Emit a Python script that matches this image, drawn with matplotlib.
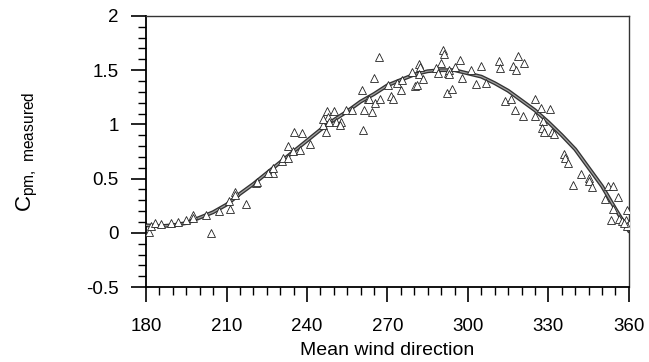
import numpy as np
import matplotlib
matplotlib.use('Agg')
import matplotlib.pyplot as plt
from matplotlib.ticker import MultipleLocator

plt.rcParams['font.family'] = ['Liberation Sans', 'DejaVu Sans']
plt.rcParams['mathtext.fontset'] = 'custom'
plt.rcParams['mathtext.rm'] = 'Liberation Sans'

# measured points (wind direction in degrees, Cpm)
wind_dir = [181, 182, 183.4, 185.6, 189.3, 191.8, 195, 197.4, 197.4, 202.4,
            204.2, 207.3, 211, 211.4, 213.3, 213, 217.3, 221, 227.2, 221.3,
            225.6, 227.4, 230.6, 231.1, 233, 233, 234.9, 237.4, 241.1, 235.3,
            238.2, 246.1, 247.1, 247.3, 247.9, 246.1, 250, 248.3, 250.9, 252.8,
            252.3, 254.5, 256.7, 261.3, 261, 260.4, 262.9, 267, 265.1, 263,
            265.4, 267.2, 270.3, 271.2, 272.2, 264.4, 273.4, 290.8, 291, 289.9,
            281.9, 282.1, 279, 281.9, 283.2, 275.4, 275, 280.3, 281.1, 288.1,
            289, 292.1, 292.4, 293.1, 295.2, 297.1, 293.1, 301.1, 304.8, 297.9,
            303, 306.9, 311.6, 311.9, 316.8, 318.7, 320.8, 317.9, 294, 313.9,
            315.9, 325, 317.5, 320.6, 327.2, 330.5, 325, 328.1, 327.5, 328.3,
            331.2, 332.1, 335.8, 336.2, 337.2, 342, 345.2, 345.3, 339, 346.2,
            352.3, 354.2, 356.1, 351, 354.2, 359.2, 353.2, 356.3, 357.6, 358.9,
            360, 359.2, 358.1]
cpm = [0.01, 0.06, 0.09, 0.08, 0.09, 0.10, 0.12, 0.16, 0.14, 0.16,
       0.00, 0.20, 0.29, 0.22, 0.38, 0.35, 0.27, 0.46, 0.55, 0.47,
       0.55, 0.60, 0.66, 0.69, 0.69, 0.80, 0.75, 0.76, 0.82, 0.93,
       0.92, 0.99, 0.93, 1.12, 1.07, 1.05, 1.12, 1.02, 1.02, 1.02,
       0.99, 1.13, 1.13, 1.13, 0.95, 1.32, 1.23, 1.62, 1.43, 1.23,
       1.20, 1.23, 1.36, 1.26, 1.23, 1.11, 1.38, 1.69, 1.65, 1.57,
       1.56, 1.53, 1.48, 1.46, 1.42, 1.41, 1.32, 1.35, 1.36, 1.52,
       1.47, 1.29, 1.47, 1.50, 1.53, 1.59, 1.46, 1.50, 1.54, 1.43,
       1.37, 1.38, 1.58, 1.52, 1.54, 1.63, 1.57, 1.50, 1.33, 1.22,
       1.23, 1.23, 1.13, 1.08, 1.15, 1.14, 1.08, 1.03, 0.97, 0.93,
       0.93, 0.91, 0.73, 0.69, 0.64, 0.54, 0.51, 0.48, 0.44, 0.42,
       0.43, 0.43, 0.33, 0.31, 0.22, 0.21, 0.12, 0.13, 0.11, 0.12,
       0.08, 0.06, 0.09]

# fitted curve
fit_dir = np.arange(180, 361, 5)
fit_cpm = [0.07, 0.06, 0.07, 0.09, 0.14, 0.19, 0.26, 0.36, 0.45, 0.55,
           0.65, 0.75, 0.85, 0.95, 1.04, 1.12, 1.21, 1.28, 1.36, 1.41,
           1.46, 1.49, 1.50, 1.50, 1.47, 1.44, 1.38, 1.31, 1.22, 1.13,
           1.02, 0.90, 0.77, 0.60, 0.43, 0.22, 0.02]

fig = plt.figure(figsize=(6.49, 3.62), dpi=100)
ax = fig.add_axes([0.225, 0.207, 0.744, 0.749])

ax.plot(fit_dir, fit_cpm, color='#333333', lw=2.8, zorder=2)
ax.plot(fit_dir, fit_cpm, color='#a0a0a0', lw=0.9, zorder=3)
ax.plot(wind_dir, cpm, linestyle='none', marker='^', markersize=5.2,
        markerfacecolor='white', markeredgecolor='#222222',
        markeredgewidth=0.6, zorder=4)

ax.set_xlim(180, 360)
ax.set_ylim(-0.5, 2)
ax.xaxis.set_major_locator(MultipleLocator(30))
ax.xaxis.set_minor_locator(MultipleLocator(5))
ax.yaxis.set_minor_locator(MultipleLocator(0.1))
ax.set_yticks([-0.5, 0, 0.5, 1, 1.5, 2])
ax.set_yticklabels(['-0.5', '0', '0.5', '1', '1.5', '2'])

ax.tick_params(axis='both', which='major', length=10.5, width=1.2,
               direction='out', labelsize=13.5)
ax.tick_params(axis='both', which='minor', length=6, width=1.0,
               direction='out')
ax.tick_params(axis='x', which='major', pad=12)
ax.tick_params(axis='y', which='major', pad=9)

for s in ['left', 'bottom']:
    ax.spines[s].set_linewidth(1.3)
for s in ['top', 'right']:
    ax.spines[s].set_linewidth(1.0)
    ax.spines[s].set_color('#333333')

ax.set_xlabel('Mean wind direction', fontsize=14, labelpad=5)
ax.set_ylabel(r'C$_{\mathrm{pm,\ measured}}$', fontsize=16, labelpad=33)

fig.savefig('out.png', dpi=100)
